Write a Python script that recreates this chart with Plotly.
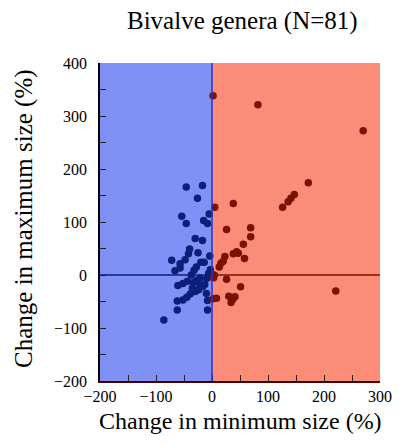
import plotly.graph_objects as go

# contraction (blue) genera: change in min size, change in max size (%)
blue_x = [-46, -17, -26, -54, -46, -15, -8, -5, -30, -17, -40, -42, -72, -57, -48, -20,
          -14, -4, -66, -57, -32, -37, -61, -52, -44, -33, -21, -9, -6, -13, -21, -52,
          -45, -39, -30, -24, -17, -62, -8, -62, -8, -86, -27, -35, -3, -25, -10, -28]
blue_y = [166, 169, 145, 111, 97, 103, 97, 115, 69, 65, 49, 40, 28, 21, 29, 24,
          24, 36, 8, 13, 9, 0, -20, -16, -12, -14, -6, -6, 3, -18, -20, -47,
          -42, -36, -31, -28, -22, -49, -48, -66, -66, -85, -10, -25, 10, 42, -35, 15]

# expansion (red) genera
red_x = [2, 82, 172, 147, 141, 136, 126, 38, 5, 26, 69, 69, 56, 58, 44, 38, 23,
         20, 13, 4, 26, 51, 41, 37, 34, 8, 2, 270, 221, 16, 30, 3, 47]
red_y = [338, 321, 174, 152, 145, 138, 128, 135, 128, 86, 89, 72, 58, 31, 44, 40, 35,
         26, 15, 0, -8, -22, -41, -46, -52, -44, -45, 272, -30, 22, -40, -5, 41]

font = "Liberation Serif, Times New Roman, serif"

fig = go.Figure()
fig.add_trace(go.Scatter(x=blue_x, y=blue_y, mode="markers",
                         marker=dict(color="#0c1f78", size=7.5), showlegend=False))
fig.add_trace(go.Scatter(x=red_x, y=red_y, mode="markers",
                         marker=dict(color="#7a1200", size=7.5), showlegend=False))

# background halves
fig.add_shape(type="rect", x0=-200, x1=0, y0=-200, y1=400, layer="below",
              fillcolor="#8190f5", line_width=0)
fig.add_shape(type="rect", x0=0, x1=300, y0=-200, y1=400, layer="below",
              fillcolor="#fa8c78", line_width=0)
# zero lines
fig.add_shape(type="line", x0=-200, x1=0, y0=0, y1=0, line=dict(color="#0c1f78", width=1.3))
fig.add_shape(type="line", x0=0, x1=300, y0=0, y1=0, line=dict(color="#7a1200", width=1.3))
fig.add_shape(type="line", x0=0, x1=0, y0=-200, y1=400, line=dict(color="#2035d0", width=1.5))

fig.update_xaxes(range=[-200, 300], dtick=100, tick0=0, ticks="inside", ticklen=6,
                 tickcolor="#222", showgrid=False, zeroline=False,
                 showline=True, linecolor="#400", linewidth=1.5,
                 minor=dict(dtick=50, ticks="inside", ticklen=6, tickcolor="#222"),
                 tickfont=dict(family=font, size=16, color="black"),
                 ticklabelstandoff=0)
fig.update_yaxes(range=[-200, 400], dtick=100, tick0=0, ticks="inside", ticklen=6,
                 tickcolor="#222", showgrid=False, zeroline=False,
                 showline=True, linecolor="black", linewidth=1.5,
                 minor=dict(dtick=50, ticks="inside", ticklen=6, tickcolor="#222"),
                 tickfont=dict(family=font, size=16, color="black"),
                 ticklabelstandoff=8)

fig.add_annotation(text="Bivalve genera (N=81)", xref="paper", yref="paper",
                   x=0.51, y=1.132, xanchor="center", yanchor="middle", showarrow=False,
                   font=dict(family=font, size=25, color="black"))
fig.add_annotation(text="Change in minimum size (%)", xref="paper", yref="paper",
                   x=0.5, y=-0.125, xanchor="center", yanchor="middle", showarrow=False,
                   font=dict(family=font, size=24, color="black"))
fig.add_annotation(text="Change in maximum size (%)", xref="paper", yref="paper",
                   x=-0.271, y=0.51, xanchor="center", yanchor="middle", showarrow=False,
                   textangle=-90, font=dict(family=font, size=25, color="black"))

# page body has an 8px margin, so the margins are shifted to compensate
fig.update_layout(width=414, height=445, plot_bgcolor="white", paper_bgcolor="white",
                  margin=dict(l=92, r=42, t=55, b=72), font=dict(family=font))

fig.write_html("out.html")
